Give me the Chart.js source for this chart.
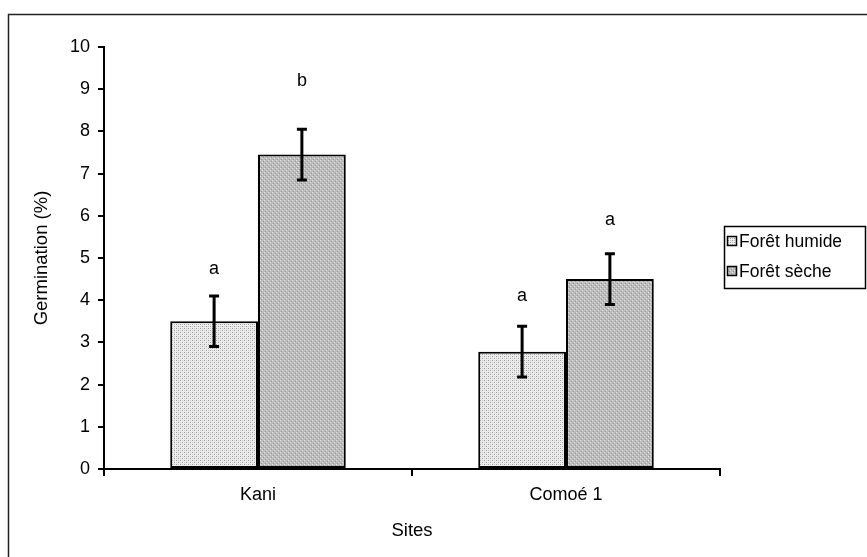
<!DOCTYPE html>
<html lang="fr">
<head>
<meta charset="UTF-8">
<title>Germination</title>
<style>
    body { margin: 0; background: #fff; }
    #wrap { width: 867px; height: 557px; position: relative; }
</style>
<script src="https://cdn.jsdelivr.net/npm/chart.js"></script>
</head>
<body>
<div id="wrap"><canvas id="chart" width="867" height="557"></canvas></div>
<script>
    // données
    const sites = ['Kani', 'Comoé 1'];
    const humide = [3.5, 2.78];
    const seche = [7.45, 4.5];
    const humideErr = [0.6, 0.6];
    const secheErr = [0.6, 0.6];
    const humideLettres = ['a', 'a'];
    const secheLettres = ['b', 'a'];
    const humideLettresY = [4.75, 4.1];
    const secheLettresY = [9.2, 5.9];
    const yTicks = [0, 1, 2, 3, 4, 5, 6, 7, 8, 9, 10];

    const FONT = 'Liberation Sans, Arial, sans-serif';

    // motifs de remplissage (trames)
    function makePattern(bg, dots) {
        const c = document.createElement('canvas');
        c.width = 4; c.height = 4;
        const g = c.getContext('2d');
        g.fillStyle = bg;
        g.fillRect(0, 0, 4, 4);
        dots.forEach(d => {
            g.fillStyle = d[2];
            g.fillRect(d[0], d[1], 1, 1);
        });
        return g.createPattern(c, 'repeat');
    }
    const ctx0 = document.getElementById('chart').getContext('2d');
    const patHumide = makePattern('#eeeeee', [[0, 0, '#9a9a9a'], [2, 2, '#9a9a9a'], [2, 0, '#c4c4c4'], [0, 2, '#c4c4c4']]);
    const patSeche = makePattern('#bcbcbc', [[0, 0, '#e4e4e4'], [2, 2, '#e4e4e4'], [1, 3, '#969696'], [3, 1, '#969696']]);

    const errors = [humideErr, secheErr];
    const lettres = [humideLettres, secheLettres];
    const lettresY = [humideLettresY, secheLettresY];

    const decorPlugin = {
        id: 'decor',
        beforeDraw(chart) {
            const c = chart.ctx;
            c.save();
            c.strokeStyle = '#222';
            c.lineWidth = 1.5;
            c.beginPath();
            c.moveTo(8.5, 600);
            c.lineTo(8.5, 14.5);
            c.lineTo(900, 14.5);
            c.stroke();
            c.restore();
        },
        afterDatasetsDraw(chart) {
            const c = chart.ctx;
            const y = chart.scales.y;
            c.save();
            chart.data.datasets.forEach((ds, i) => {
                const meta = chart.getDatasetMeta(i);
                meta.data.forEach((bar, j) => {
                    const v = ds.data[j];
                    const e = errors[i][j];
                    const yTop = y.getPixelForValue(v + e);
                    const yBot = y.getPixelForValue(v - e);
                    c.strokeStyle = '#000';
                    c.lineWidth = 3;
                    c.beginPath();
                    c.moveTo(bar.x, yTop);
                    c.lineTo(bar.x, yBot);
                    c.moveTo(bar.x - 5, yTop);
                    c.lineTo(bar.x + 5, yTop);
                    c.moveTo(bar.x - 5, yBot);
                    c.lineTo(bar.x + 5, yBot);
                    c.stroke();

                    c.fillStyle = '#000';
                    c.font = '18px ' + FONT;
                    c.textAlign = 'center';
                    c.textBaseline = 'middle';
                    c.fillText(lettres[i][j], bar.x, y.getPixelForValue(lettresY[i][j]));
                });
            });

            // légende
            c.strokeStyle = '#000';
            c.lineWidth = 1.5;
            c.strokeRect(724.5, 226.5, 141, 62);
            const pats = [patHumide, patSeche];
            chart.data.datasets.forEach((ds, i) => {
                const cy = 241 + i * 30;
                c.fillStyle = pats[i];
                c.fillRect(727, cy - 5, 10, 10);
                c.lineWidth = 1.5;
                c.strokeRect(727.5, cy - 4.5, 9, 9);
                c.fillStyle = '#000';
                c.font = '17.5px ' + FONT;
                c.textAlign = 'left';
                c.textBaseline = 'middle';
                c.fillText(ds.label, 739, cy + 1);
            });
            c.restore();
        }
    };

    new Chart(document.getElementById('chart'), {
        type: 'bar',
        data: {
            labels: sites,
            datasets: [
                { label: 'Forêt humide', data: humide, backgroundColor: patHumide, borderColor: '#000', borderWidth: 2, borderSkipped: false },
                { label: 'Forêt sèche', data: seche, backgroundColor: patSeche, borderColor: '#000', borderWidth: 2, borderSkipped: false }
            ]
        },
        options: {
            responsive: false,
            animation: false,
            categoryPercentage: 0.57,
            barPercentage: 1.0,
            layout: { padding: { left: 0, right: 147, top: 47, bottom: 0 } },
            plugins: {
                legend: { display: false },
                tooltip: { enabled: false }
            },
            scales: {
                x: {
                    afterFit(s) { s.height = 88; },
                    grid: { drawOnChartArea: false, color: '#000', lineWidth: 2, tickLength: 7 },
                    border: { color: '#000', width: 2 },
                    ticks: { color: '#000', font: { family: FONT, size: 18 }, padding: 8 },
                    title: { display: true, text: 'Sites', color: '#000', font: { family: FONT, size: 18.5 }, padding: { top: 0, bottom: 15 } }
                },
                y: {
                    min: 0,
                    max: 10,
                    afterFit(s) { s.width = 104; },
                    afterBuildTicks(s) { s.ticks = yTicks.map(v => ({ value: v })); },
                    grid: { drawOnChartArea: false, color: '#000', lineWidth: 2, tickLength: 6 },
                    border: { color: '#000', width: 2 },
                    ticks: { color: '#000', font: { family: FONT, size: 18 }, padding: 8 },
                    title: { display: true, text: 'Germination (%)', color: '#000', font: { family: FONT, size: 18.5 }, padding: { top: 31, bottom: 0 } }
                }
            }
        },
        plugins: [decorPlugin]
    });
</script>
</body>
</html>
